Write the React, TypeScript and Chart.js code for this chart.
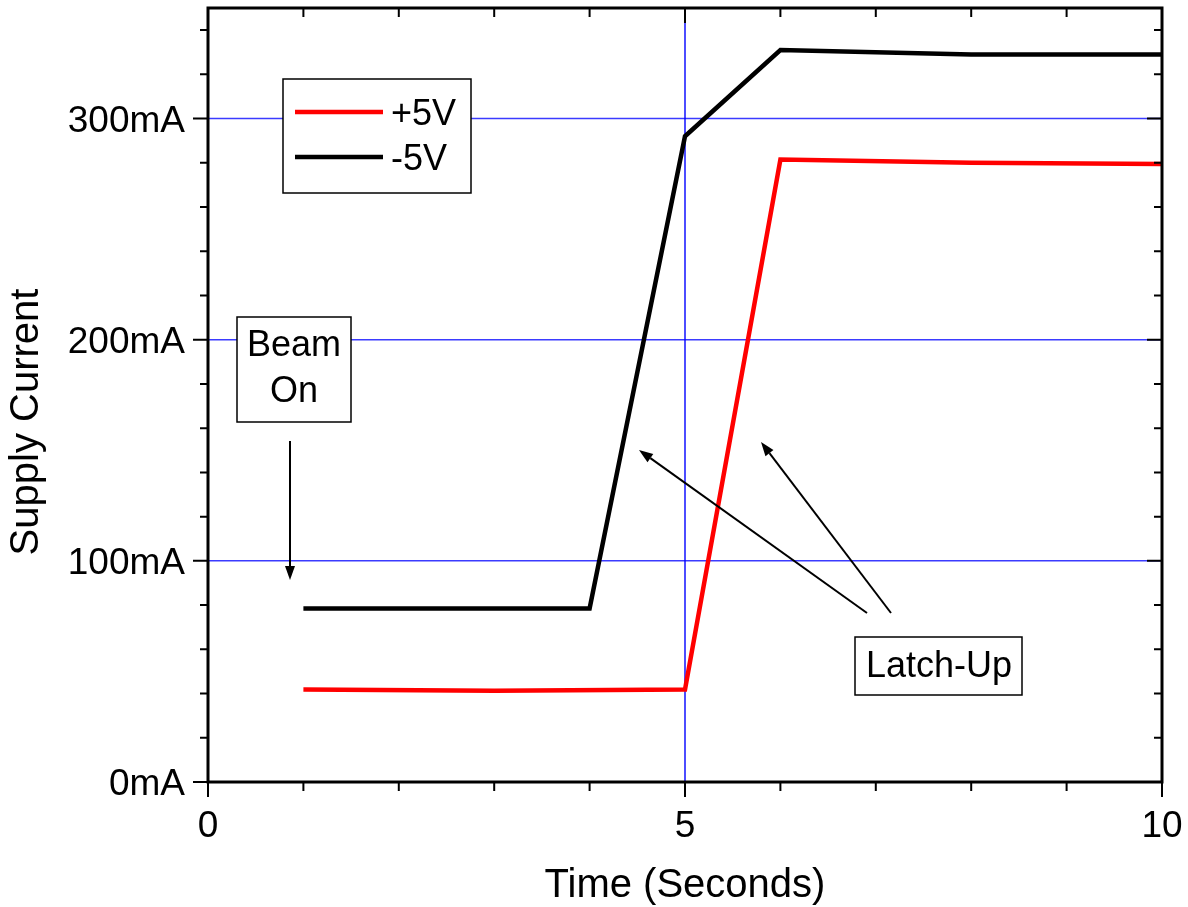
import React, { useEffect, useRef } from "react";
import { Chart, registerables } from "chart.js";

Chart.register(...registerables);

// ---- Data ----
const plus5VTime = [1, 3, 5, 6, 8, 10];
const plus5VCurrent = [41.8, 41.3, 41.8, 281.5, 280, 279.5];
const minus5VTime = [1, 4, 5, 6, 8, 10];
const minus5VCurrent = [78.5, 78.5, 292, 331, 329, 329];

const xMajorTicks = [0, 5, 10];
const xMinorTicks = [1, 2, 3, 4, 6, 7, 8, 9];
const yMajorTicks = [0, 100, 200, 300];
const yMajorLabels = ["0mA", "100mA", "200mA", "300mA"];
const yMinorTicks = [20, 40, 60, 80, 120, 140, 160, 180, 220, 240, 260, 280, 320, 340];
const yGridValues = [100, 200, 300];
const xGridValues = [5];

const seriesNames = ["+5V", "-5V"];
const seriesColors = ["#ff0000", "#000000"];

const FONT = "'Liberation Sans', Arial, Helvetica, sans-serif";

function arrow(ctx: CanvasRenderingContext2D, x1: number, y1: number, x2: number, y2: number) {
  const ang = Math.atan2(y2 - y1, x2 - x1);
  const len = 14;
  const hw = 5;
  const bx = x2 - len * Math.cos(ang);
  const by = y2 - len * Math.sin(ang);
  ctx.save();
  ctx.strokeStyle = "#000";
  ctx.fillStyle = "#000";
  ctx.lineWidth = 2;
  ctx.beginPath();
  ctx.moveTo(x1, y1);
  ctx.lineTo(bx, by);
  ctx.stroke();
  ctx.beginPath();
  ctx.moveTo(x2, y2);
  ctx.lineTo(bx + hw * Math.sin(ang), by - hw * Math.cos(ang));
  ctx.lineTo(bx - hw * Math.sin(ang), by + hw * Math.cos(ang));
  ctx.closePath();
  ctx.fill();
  ctx.restore();
}

const gridPlugin = {
  id: "customGrid",
  beforeDatasetsDraw(chart: any) {
    const { ctx, chartArea: a, scales } = chart;
    const xs = scales.x;
    const ys = scales.y;
    ctx.save();
    ctx.strokeStyle = "#3b3bff";
    ctx.lineWidth = 1.5;
    yGridValues.forEach((v) => {
      const y = ys.getPixelForValue(v);
      ctx.beginPath();
      ctx.moveTo(a.left, y);
      ctx.lineTo(a.right, y);
      ctx.stroke();
    });
    ctx.strokeStyle = "#0000ff";
    ctx.lineWidth = 1.4;
    xGridValues.forEach((v) => {
      const x = xs.getPixelForValue(v);
      ctx.beginPath();
      ctx.moveTo(x, a.top);
      ctx.lineTo(x, a.bottom);
      ctx.stroke();
    });
    ctx.restore();
  },
};

const axesPlugin = {
  id: "customAxes",
  afterDatasetsDraw(chart: any) {
    const { ctx, chartArea: a, scales } = chart;
    const xs = scales.x;
    const ys = scales.y;
    const MAJ = 15;
    const MIN = 9;
    ctx.save();
    ctx.strokeStyle = "#000";
    ctx.lineWidth = 2;
    const yTick = (v: number, len: number) => {
      const y = ys.getPixelForValue(v);
      ctx.beginPath();
      ctx.moveTo(a.left - len, y);
      ctx.lineTo(a.left, y);
      ctx.moveTo(a.right - len, y);
      ctx.lineTo(a.right, y);
      ctx.stroke();
    };
    yMajorTicks.forEach((v) => yTick(v, MAJ));
    yMinorTicks.forEach((v) => yTick(v, 8));
    const xTick = (v: number, len: number) => {
      const x = xs.getPixelForValue(v);
      ctx.beginPath();
      ctx.moveTo(x, a.bottom);
      ctx.lineTo(x, a.bottom + len);
      ctx.moveTo(x, a.top);
      ctx.lineTo(x, a.top + len);
      ctx.stroke();
    };
    xMajorTicks.forEach((v) => xTick(v, MAJ));
    xMinorTicks.forEach((v) => xTick(v, MIN));
    ctx.lineWidth = 3;
    ctx.strokeRect(a.left, a.top, a.right - a.left, a.bottom - a.top);

    ctx.fillStyle = "#000";
    ctx.font = `37px ${FONT}`;
    ctx.textAlign = "right";
    ctx.textBaseline = "alphabetic";
    yMajorTicks.forEach((v, i) => {
      ctx.fillText(yMajorLabels[i], a.left - 23, ys.getPixelForValue(v) + 13);
    });
    ctx.textAlign = "center";
    xMajorTicks.forEach((v) => {
      ctx.fillText(String(v), xs.getPixelForValue(v), 837);
    });
    ctx.font = `40px ${FONT}`;
    ctx.fillText("Time (Seconds)", (a.left + a.right) / 2, 897);
    ctx.save();
    ctx.translate(38, 422);
    ctx.rotate(-Math.PI / 2);
    ctx.fillText("Supply Current", 0, 0);
    ctx.restore();
    ctx.restore();
  },
};

const annotationPlugin = {
  id: "customAnnotations",
  afterDraw(chart: any) {
    const { ctx } = chart;
    ctx.save();
    ctx.fillStyle = "#fff";
    ctx.strokeStyle = "#000";
    ctx.lineWidth = 1.5;
    ctx.fillRect(283, 79, 188, 114);
    ctx.strokeRect(283, 79, 188, 114);
    ctx.lineWidth = 4.5;
    const legendY = [112, 157];
    seriesNames.forEach((name, i) => {
      ctx.strokeStyle = seriesColors[i];
      ctx.beginPath();
      ctx.moveTo(295, legendY[i]);
      ctx.lineTo(383, legendY[i]);
      ctx.stroke();
      ctx.fillStyle = "#000";
      ctx.font = `36px ${FONT}`;
      ctx.textAlign = "left";
      ctx.textBaseline = "alphabetic";
      ctx.fillText(name, 391, legendY[i] + 13);
    });

    ctx.fillStyle = "#fff";
    ctx.strokeStyle = "#000";
    ctx.lineWidth = 1.5;
    ctx.fillRect(237, 317, 114, 105);
    ctx.strokeRect(237, 317, 114, 105);
    ctx.fillStyle = "#000";
    ctx.textAlign = "center";
    ctx.font = `36px ${FONT}`;
    ctx.fillText("Beam", 294, 356);
    ctx.fillText("On", 294, 402);
    arrow(ctx, 290, 441, 290, 580);

    ctx.fillStyle = "#fff";
    ctx.lineWidth = 1.5;
    ctx.fillRect(855, 637, 167, 58);
    ctx.strokeRect(855, 637, 167, 58);
    ctx.fillStyle = "#000";
    ctx.fillText("Latch-Up", 939, 677);
    arrow(ctx, 867, 613, 639, 450);
    arrow(ctx, 891, 613, 761, 442);
    ctx.restore();
  },
};

export default function App() {
  const ref = useRef<HTMLCanvasElement | null>(null);
  useEffect(() => {
    if (!ref.current) return;
    const chart = new Chart(ref.current, {
      type: "line",
      data: {
        datasets: [
          {
            label: seriesNames[1],
            data: minus5VTime.map((t, i) => ({ x: t, y: minus5VCurrent[i] })),
            borderColor: seriesColors[1],
            borderWidth: 4.5,
            pointRadius: 0,
            tension: 0,
            borderJoinStyle: "miter",
          },
          {
            label: seriesNames[0],
            data: plus5VTime.map((t, i) => ({ x: t, y: plus5VCurrent[i] })),
            borderColor: seriesColors[0],
            borderWidth: 4.5,
            pointRadius: 0,
            tension: 0,
            borderJoinStyle: "miter",
          },
        ],
      },
      options: {
        responsive: false,
        animation: false,
        devicePixelRatio: 1,
        layout: { padding: { left: 208, top: 8, right: 26, bottom: 125 } },
        plugins: { legend: { display: false }, tooltip: { enabled: false } },
        scales: {
          x: { type: "linear", min: 0, max: 10, display: false },
          y: { type: "linear", min: 0, max: 350, display: false },
        },
      },
      plugins: [gridPlugin, axesPlugin, annotationPlugin],
    } as any);
    return () => chart.destroy();
  }, []);
  return (
    <div style={{ position: "fixed", left: 0, top: 0, width: 1188, height: 907, background: "#fff" }}>
      <canvas ref={ref} width={1188} height={907} style={{ width: 1188, height: 907, display: "block" }} />
    </div>
  );
}
